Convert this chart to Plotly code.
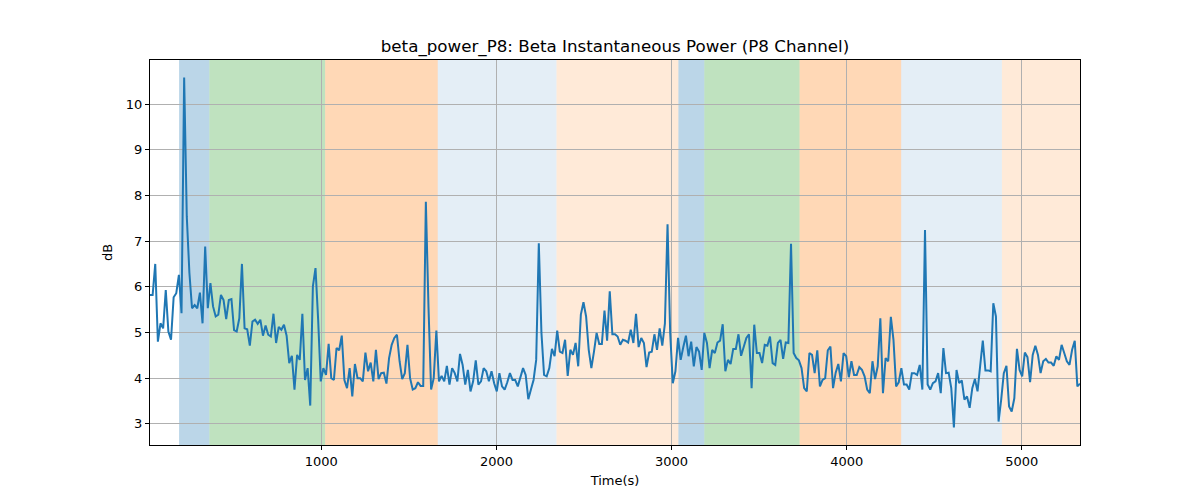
import numpy as np
import plotly.graph_objects as go

# sample times (s): first sample and spacing
START_TIME = 22
STEP = 15

# beta power in dB
power_db = [
    5.82, 5.82, 6.50, 4.80, 5.20, 5.09, 5.93, 5.02, 4.84, 5.77, 5.86, 6.26, 5.42, 10.58, 7.54, 6.30,
    5.53, 5.60, 5.53, 5.87, 5.20, 6.88, 5.53, 6.08, 5.57, 5.35, 5.39, 5.82, 5.71, 5.29, 5.71, 5.73,
    5.05, 5.02, 5.31, 6.50,
    5.09, 5.07, 4.71, 5.24, 5.28, 5.19, 5.28, 4.93, 5.15, 4.95, 4.91, 5.41, 4.77, 5.12, 5.06, 5.17,
    4.93, 4.33, 4.49, 3.75, 4.51, 4.40, 5.41, 3.96, 4.22, 3.40, 6.01, 6.41, 5.28, 3.93, 4.22, 4.07,
    4.75, 4.00, 3.96, 4.66,
    4.61, 4.93, 3.96, 3.78, 4.22, 3.60, 4.31, 4.00, 4.00, 3.93, 4.56, 4.15, 4.34, 3.93, 4.62, 3.98,
    4.11, 4.12, 3.88, 4.44, 4.73, 4.88, 4.95, 4.37, 3.98, 4.11, 4.73, 4.00, 3.75, 3.78, 3.91, 3.83,
    3.83, 7.86, 5.57, 3.75,
    4.00, 5.04, 3.93, 4.05, 3.93, 4.27, 3.86, 4.22, 4.11, 3.93, 4.53, 4.29, 3.86, 4.18, 3.71, 3.93,
    4.39, 3.86, 3.93, 4.22, 4.15, 3.93, 4.15, 3.89, 3.71, 4.11, 3.82, 3.75, 3.91, 4.11, 3.96, 3.96,
    3.82, 4.04, 4.22, 4.07, 3.54,
    3.75, 3.96, 4.40, 6.95, 4.99, 4.07, 4.04, 4.22, 4.64, 4.48, 5.04, 4.58, 4.55, 4.84, 4.05, 4.62,
    4.51, 4.77, 4.26, 5.39, 5.66, 5.35, 4.62, 4.22, 4.58, 4.99, 4.75, 4.75, 5.48, 4.82, 5.90, 4.96,
    4.96, 4.91, 4.73, 4.84,
    4.82, 4.78, 5.06, 4.77, 5.41, 4.68, 4.88, 4.77, 4.24, 4.56, 4.58, 4.96, 4.62, 5.09, 4.71, 5.20,
    7.37, 4.99, 3.89, 4.15, 4.88, 4.40, 4.68, 4.93, 4.48, 4.80, 4.26, 4.68, 4.58, 4.18, 4.99, 4.77,
    4.22, 4.62, 4.55, 4.78,
    4.82, 5.18, 4.15, 4.40, 4.31, 4.64, 4.64, 4.96, 4.49, 4.71, 4.88, 4.96, 3.78, 5.17, 4.55, 4.55,
    4.33, 4.73, 4.71, 4.91, 4.33, 4.29, 4.77, 4.84, 4.42, 4.78, 4.77, 6.94, 4.55, 4.44, 4.39, 4.22,
    3.78, 3.71, 4.55, 4.51, 4.11,
    4.61, 3.82, 3.96, 4.00, 4.61, 4.69, 3.78, 4.12, 4.31, 3.93, 4.55, 4.48, 4.02, 4.37, 4.07, 4.07,
    4.24, 4.18, 4.04, 3.75, 3.67, 4.37, 3.98, 4.26, 5.31, 3.67, 4.44, 4.37, 5.34, 4.84, 3.82, 3.91,
    4.22, 3.86, 3.86, 3.75,
    4.11, 4.11, 4.07, 4.29, 3.75, 7.24, 3.86, 3.75, 3.89, 3.93, 4.11, 3.67, 4.66, 4.11, 4.12, 3.78,
    2.92, 4.18, 3.89, 3.95, 3.53, 3.60, 3.35, 3.78, 3.98, 3.71, 4.27, 4.82, 4.17, 4.17, 4.15, 5.64,
    5.35, 3.05, 3.53, 4.11,
    4.27, 3.38, 3.27, 3.56, 4.64, 4.18, 4.04, 4.56, 4.46, 3.91, 4.51, 4.71, 4.51, 4.11, 4.37, 4.42,
    4.34, 4.34, 4.27, 4.48, 4.40, 4.73, 4.55, 4.37, 4.29, 4.62, 4.82, 3.82, 3.88,
]

time_s = START_TIME + STEP * np.arange(len(power_db))

# background segments (start, end, kind)
seg_start = [188, 361, 1022, 1665, 2343, 3039, 3187, 3731, 4311, 4886]
seg_end = [361, 1022, 1665, 2343, 3039, 3187, 3731, 4311, 4886, 5340]
seg_kind = ["blue", "green", "orange", "pale_blue", "pale_orange",
            "blue", "green", "orange", "pale_blue", "pale_orange"]

SEG_COLORS = {
    "blue": "rgba(31,119,180,0.30)",
    "green": "rgba(44,160,44,0.30)",
    "orange": "rgba(255,127,14,0.30)",
    "pale_blue": "rgba(31,119,180,0.12)",
    "pale_orange": "rgba(255,127,14,0.16)",
}

fig = go.Figure()

for x0, x1, kind in zip(seg_start, seg_end, seg_kind):
    fig.add_vrect(
        x0=x0, x1=x1,
        fillcolor=SEG_COLORS[kind],
        layer="below",
        line_width=0,
    )

fig.add_trace(go.Scatter(
    x=time_s,
    y=power_db,
    mode="lines",
    line=dict(color="#1f77b4", width=2),
    showlegend=False,
))

ymin, ymax = min(power_db), max(power_db)
pad = 0.05 * (ymax - ymin)

axis_style = dict(
    showgrid=True,
    gridcolor="#b0b0b0",
    gridwidth=1,
    showline=True,
    linecolor="black",
    linewidth=1,
    mirror=True,
    ticks="outside",
    ticklen=4,
    tickcolor="black",
    zeroline=False,
    tickfont=dict(size=13, color="black"),
)

# the page adds an 8px body margin, so the margins are offset by it
fig.update_layout(
    width=1200,
    height=500,
    paper_bgcolor="white",
    plot_bgcolor="white",
    font=dict(family="DejaVu Sans", color="black"),
    margin=dict(l=142, r=128, t=52, b=63),
    title=dict(
        text="beta_power_P8: Beta Instantaneous Power (P8 Channel)",
        x=0.5, xanchor="center", xref="paper",
        y=0.924, yanchor="middle",
        font=dict(size=16.7, color="black"),
    ),
    xaxis=dict(
        range=[time_s[0], time_s[-1]],
        tickvals=[1000, 2000, 3000, 4000, 5000],
        title=dict(text="Time(s)", font=dict(size=13), standoff=8),
        **axis_style,
    ),
    yaxis=dict(
        range=[ymin - pad, ymax + pad],
        tickvals=[3, 4, 5, 6, 7, 8, 9, 10],
        title=dict(text="dB", font=dict(size=13), standoff=10),
        **axis_style,
    ),
)

fig.write_html("out.html")
